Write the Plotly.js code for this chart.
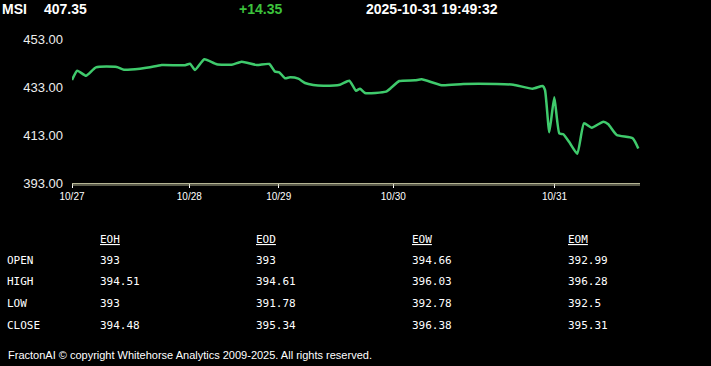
<!DOCTYPE html>
<html>
<head>
<meta charset="utf-8">
<script src="https://cdn.plot.ly/plotly-3.0.1.min.js"></script>
<style>
html,body{margin:0;padding:0;background:#000;}
#chart{width:711px;height:366px;}
</style>
</head>
<body>
<div id="chart"></div>
<script>
// ---- data ----
var symbol = "MSI";
var lastPrice = "407.35";
var change = "+14.35";
var stamp = "2025-10-31 19:49:32";

// trading-time position (session units) and price
var timePos = [0, 5.3, 14, 24, 44.7, 52, 68, 78, 89.7, 113, 118, 123, 132.3, 144.7, 159.7, 169.7, 184.7, 197.3, 203, 207.3, 213, 218, 226.3, 233, 241.3, 251.3, 268, 277.3, 284, 288, 293, 314, 319.7, 327.3, 343, 349.7, 369.7, 391.3, 424.7, 441.3, 460.7, 470.7, 473, 477.3, 482.3, 487.3, 491.3, 498, 505.3, 512, 519.7, 531.3, 536.3, 544.7, 560.7, 566.3];
var price = [435.92, 439.79, 437.71, 441.21, 441.33, 440.21, 440.63, 441.21, 442.17, 442.04, 442.71, 440.08, 444.54, 442.46, 442.29, 443.54, 442.17, 442.58, 439.38, 439.13, 436.63, 437.04, 436.46, 434.67, 433.83, 433.54, 433.96, 435.63, 431.46, 432.29, 430.5, 431.04, 432.88, 435.5, 435.79, 436.21, 433.71, 434.25, 434.25, 433.96, 432.29, 433.42, 431.75, 414.13, 428.71, 413.71, 413.29, 409.54, 405.21, 417.88, 416.04, 418.54, 417.46, 413, 411.63, 407.35];

var dayTickPos = [0, 117.3, 206.7, 321.3, 482.5];
var dayTickText = ["10/27", "10/28", "10/29", "10/30", "10/31"];
var priceTicks = [393, 413, 433, 453];

var tableCols = ["EOH", "EOD", "EOW", "EOM"];
var tableRows = ["OPEN", "HIGH", "LOW", "CLOSE"];
var colEOH = ["393", "394.51", "393", "394.48"];
var colEOD = ["393", "394.61", "391.78", "395.34"];
var colEOW = ["394.66", "396.03", "392.78", "396.38"];
var colEOM = ["392.99", "396.28", "392.5", "395.31"];

var footer = "FractonAI \u00a9 copyright Whitehorse Analytics 2009-2025. All rights reserved.";

// ---- layout helpers (pixel -> paper) ----
var L = 72, R = 640, T = 39, B = 183;
function px(x){ return (x - L) / (R - L); }
function py(y){ return (B - y) / (B - T); }

var ann = [];
var hdrFont = {family: "Liberation Sans, Arial, sans-serif", size: 14, color: "#ffffff"};
function addText(text, x, y, font){
  ann.push({text: text, xref: "paper", yref: "paper", x: px(x), y: py(y),
    xanchor: "left", yanchor: "middle", showarrow: false, font: font, borderpad: 0, borderwidth: 0});
}
addText("<b>" + symbol + "</b>", 2, 9, hdrFont);
addText("<b>" + lastPrice + "</b>", 44, 9, hdrFont);
addText("<b>" + change + "</b>", 239, 9, {family: hdrFont.family, size: 14, color: "#3cc23c"});
addText("<b>" + stamp + "</b>", 366, 9, hdrFont);

var monoFont = {family: "DejaVu Sans Mono, monospace", size: 11, color: "#ffffff"};
var colX = [100, 256, 412, 568];
var rowY = [260, 281, 303, 325];
var colsData = [colEOH, colEOD, colEOW, colEOM];
tableCols.forEach(function(c, i){
  addText('<span style="text-decoration:underline">' + c + '</span>', colX[i], 239, monoFont);
});
tableRows.forEach(function(r, j){
  addText(r, 7, rowY[j], monoFont);
  colsData.forEach(function(col, i){ addText(col[j], colX[i], rowY[j], monoFont); });
});
addText(footer, 8, 355, {family: "Liberation Sans, Arial, sans-serif", size: 11, color: "#ffffff"});

var trace = {
  x: timePos, y: price, type: "scatter", mode: "lines",
  line: {color: "#3fca6c", width: 2.5, shape: "spline", smoothing: 0.5},
  hoverinfo: "skip"
};

var layout = {
  width: 711, height: 366,
  margin: {l: L, r: 711 - R, t: T, b: 366 - B, pad: 0},
  paper_bgcolor: "#000000", plot_bgcolor: "#000000",
  showlegend: false,
  xaxis: {
    range: [0, 568], tickvals: dayTickPos, ticktext: dayTickText,
    showgrid: false, zeroline: false, showline: true, linecolor: "#b4b494", linewidth: 1,
    ticks: "outside", ticklen: 4, tickcolor: "#ffffff", tickwidth: 1,
    tickfont: {family: "Liberation Sans, Arial, sans-serif", size: 10, color: "#ffffff"},
    fixedrange: true
  },
  yaxis: {
    range: [393, 453], tickvals: priceTicks, tickformat: ".2f",
    showgrid: false, zeroline: false, showline: false, ticks: "",
    ticklabelstandoff: 8,
    tickfont: {family: "Liberation Sans, Arial, sans-serif", size: 13, color: "#eeeeee"},
    fixedrange: true
  },
  shapes: [{type: "line", xref: "paper", yref: "paper", x0: 0, x1: 1, y0: -2/144, y1: -2/144,
    line: {color: "#b4b494", width: 1}}],
  annotations: ann
};

Plotly.newPlot("chart", [trace], layout, {displayModeBar: false, staticPlot: true});
</script>
</body>
</html>
